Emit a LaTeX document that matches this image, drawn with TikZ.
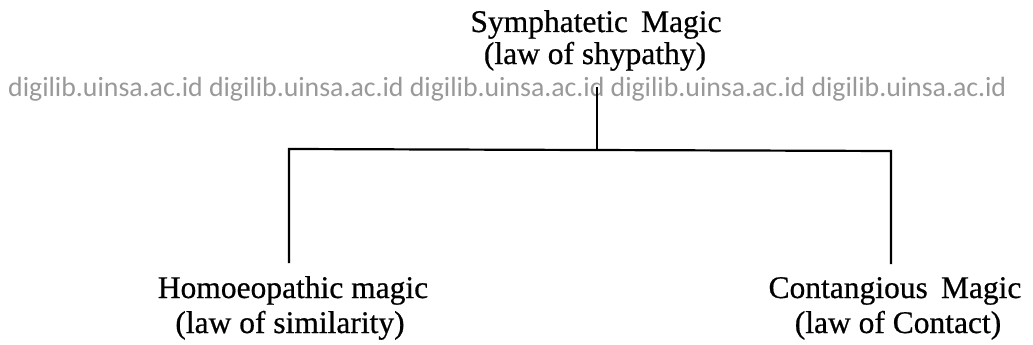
\documentclass[tikz,border=0pt]{standalone}
\usepackage{fontspec}
\setmainfont{Liberation Serif}[FakeBold=0.6]
\newfontfamily\wmfont{Carlito}
\begin{document}
\begin{tikzpicture}[x=1pt,y=-1pt,
  lbl/.style={inner sep=0pt,anchor=base,font=\fontsize{31.5}{34}\selectfont},
  wm/.style={inner sep=0pt,anchor=base west,text=black!40,font=\wmfont\fontsize{27.8}{30}\selectfont},
  conn/.style={line width=2.2pt,line cap=rect}]
\useasboundingbox (0,0) rectangle (1033,345);
% labels
\node[lbl] (top) at (596,32) {Symphatetic\ \,Magic};
\node[lbl] (toplaw) at (595,64) {(law of shypathy)};
\node[lbl] (left) at (293,298) {Homoeopathic magic};
\node[lbl] (leftlaw) at (290,333) {(law of similarity)};
\node[lbl] (right) at (895,298) {Contangious\ \,Magic};
\node[lbl] (rightlaw) at (898,333) {(law of Contact)};
% watermark
\node[wm] (wmark) at (8,96) {digilib.uinsa.ac.id digilib.uinsa.ac.id digilib.uinsa.ac.id digilib.uinsa.ac.id digilib.uinsa.ac.id};
% connector points
\coordinate (stem) at (597,88);
\coordinate (jc) at (597,150);
\coordinate (jl) at (289,149);
\coordinate (jr) at (891,151);
\coordinate (el) at (289,262);
\coordinate (er) at (891,263);
\draw[conn] (stem) -- (jc);
\draw[conn] (el) -- (jl) -- (jr) -- (er);
\end{tikzpicture}
\end{document}
